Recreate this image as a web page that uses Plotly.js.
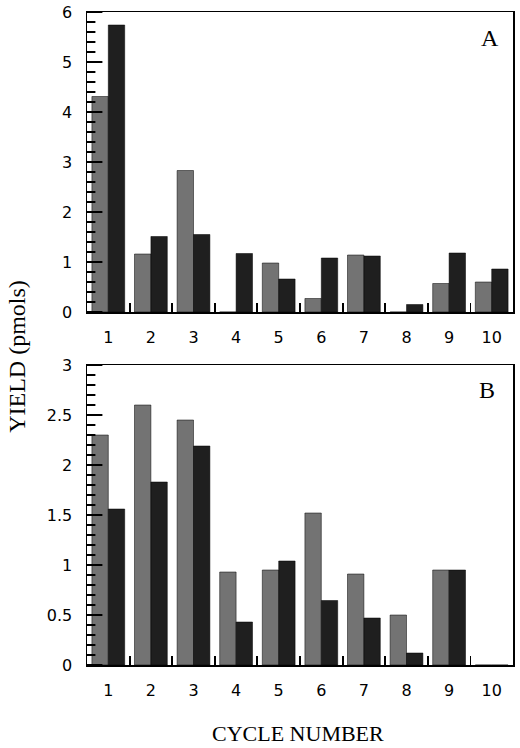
<!DOCTYPE html>
<html>
<head>
<meta charset="utf-8">
<script src="https://cdn.plot.ly/plotly-3.0.1.min.js"></script>
<style>
  html, body { margin: 0; padding: 0; background: #fff; }
  #chart { width: 520px; height: 748px; }
</style>
</head>
<body>
<div id="chart"></div>
<script>
const cycles = [1, 2, 3, 4, 5, 6, 7, 8, 9, 10];
const cycleLabels = ["1", "2", "3", "4", "5", "6", "7", "8", "9", "10"];
// tick marks sit between the cycles
const cycleBounds = [1.5, 2.5, 3.5, 4.5, 5.5, 6.5, 7.5, 8.5, 9.5];

const yTicksA = [0, 1, 2, 3, 4, 5, 6];
const yTicksB = [0, 0.5, 1, 1.5, 2, 2.5, 3];

// panel A
const yieldALight = [4.31, 1.16, 2.83, 0, 0.98, 0.27, 1.14, 0, 0.57, 0.6];
const yieldADark = [5.74, 1.51, 1.55, 1.17, 0.66, 1.08, 1.12, 0.15, 1.18, 0.86];

// panel B
const yieldBLight = [2.3, 2.6, 2.45, 0.93, 0.95, 1.52, 0.91, 0.5, 0.95, 0];
const yieldBDark = [1.56, 1.83, 2.19, 0.43, 1.04, 0.645, 0.47, 0.12, 0.95, 0];

const lightColor = "#737373";
const darkColor = "#1f1f1f";
const tickFont = { family: "DejaVu Sans, Arial, sans-serif", size: 16, color: "#000" };
const serif = "Liberation Serif, Times New Roman, serif";

const plotH = 653;
const panelH = 300;

function steps(max, step) {
  const out = [];
  for (let i = 0; i * step <= max + 1e-9; i++) out.push(+(i * step).toFixed(3));
  return out;
}

function barTrace(y, color, xa, ya) {
  return {
    type: "bar",
    x: cycles,
    y: y,
    xaxis: xa,
    yaxis: ya,
    marker: { color: color, line: { color: "#000", width: 0.5 } },
    showlegend: false,
    hoverinfo: "x+y",
  };
}

// y tick marks as line-ew markers sitting on the left edge; the half that
// falls outside the plot is clipped, leaving an inward tick
function tickTrace(vals, size, xa, ya) {
  return {
    type: "scatter",
    mode: "markers",
    x: vals.map(() => 0.5),
    y: vals,
    xaxis: xa,
    yaxis: ya,
    cliponaxis: true,
    marker: { symbol: "line-ew", size: size, color: "#000", line: { color: "#000", width: 2 } },
    showlegend: false,
    hoverinfo: "skip",
  };
}

const traces = [
  barTrace(yieldALight, lightColor, "x", "y"),
  barTrace(yieldADark, darkColor, "x", "y"),
  barTrace(yieldBLight, lightColor, "x2", "y2"),
  barTrace(yieldBDark, darkColor, "x2", "y2"),
  tickTrace(steps(6, 0.2), 12, "x", "y"),
  tickTrace(yTicksA, 22, "x", "y"),
  tickTrace(steps(3, 0.1), 12, "x2", "y2"),
  tickTrace(yTicksB, 22, "x2", "y2"),
];

const plain = {
  showgrid: false,
  zeroline: false,
  fixedrange: true,
};

function xAxis(anchor) {
  return {
    ...plain,
    anchor: anchor,
    range: [0.5, 10.5],
    tickmode: "array",
    tickvals: cycles,
    ticktext: cycleLabels,
    ticks: "",
    ticklabelstandoff: 10,
    tickfont: tickFont,
    showline: true,
    linecolor: "#000",
    linewidth: 1.5,
    mirror: true,
  };
}

// second x axis on top of the first, only for the in-between tick marks
function xTickAxis(overlay, anchor) {
  return {
    ...plain,
    overlaying: overlay,
    anchor: anchor,
    side: "bottom",
    range: [0.5, 10.5],
    tickmode: "array",
    tickvals: cycleBounds,
    ticks: "inside",
    ticklen: 9,
    tickwidth: 1.8,
    tickcolor: "#000",
    showticklabels: false,
    showline: false,
  };
}

function yAxis(anchor, domain, max, ticks) {
  return {
    ...plain,
    anchor: anchor,
    domain: domain,
    range: [0, max],
    tickmode: "array",
    tickvals: ticks,
    ticktext: ticks.map(String),
    ticks: "",
    ticklabelstandoff: 10,
    tickfont: tickFont,
    showline: true,
    linecolor: "#000",
    linewidth: 1.5,
    mirror: true,
  };
}

const layout = {
  width: 520,
  height: 748,
  margin: { l: 87, r: 7, t: 12, b: 748 - 12 - plotH },
  paper_bgcolor: "#fff",
  plot_bgcolor: "#fff",
  barmode: "group",
  bargap: 0.23,
  bargroupgap: 0,
  xaxis: xAxis("y"),
  yaxis: yAxis("x", [(plotH - panelH) / plotH, 1], 6, yTicksA),
  xaxis2: xAxis("y2"),
  yaxis2: yAxis("x2", [0, panelH / plotH], 3, yTicksB),
  xaxis3: xTickAxis("x", "y"),
  xaxis4: xTickAxis("x2", "y2"),
  annotations: [
    {
      text: "A", xref: "paper", yref: "paper", x: 0.945, y: 0.96,
      xanchor: "center", yanchor: "middle", showarrow: false,
      font: { family: serif, size: 24, color: "#000" },
    },
    {
      text: "B", xref: "paper", yref: "paper", x: 0.94, y: 0.421,
      xanchor: "center", yanchor: "middle", showarrow: false,
      font: { family: serif, size: 24, color: "#000" },
    },
    {
      text: "YIELD (pmols)", xref: "paper", yref: "paper", x: 0, y: 0.472,
      xanchor: "center", yanchor: "middle", xshift: -70, textangle: -90, showarrow: false,
      font: { family: serif, size: 24, color: "#000" },
    },
    {
      text: "CYCLE NUMBER", xref: "paper", yref: "paper", x: 0.495, y: 0,
      xanchor: "center", yanchor: "middle", yshift: -68, showarrow: false,
      font: { family: serif, size: 22, color: "#000" },
    },
  ],
};

// empty traces so the overlay axes get drawn
traces.push(
  { type: "scatter", x: [], y: [], xaxis: "x3", yaxis: "y", showlegend: false, hoverinfo: "skip" },
  { type: "scatter", x: [], y: [], xaxis: "x4", yaxis: "y2", showlegend: false, hoverinfo: "skip" }
);

Plotly.newPlot("chart", traces, layout, { displayModeBar: false, staticPlot: true });
</script>
</body>
</html>
